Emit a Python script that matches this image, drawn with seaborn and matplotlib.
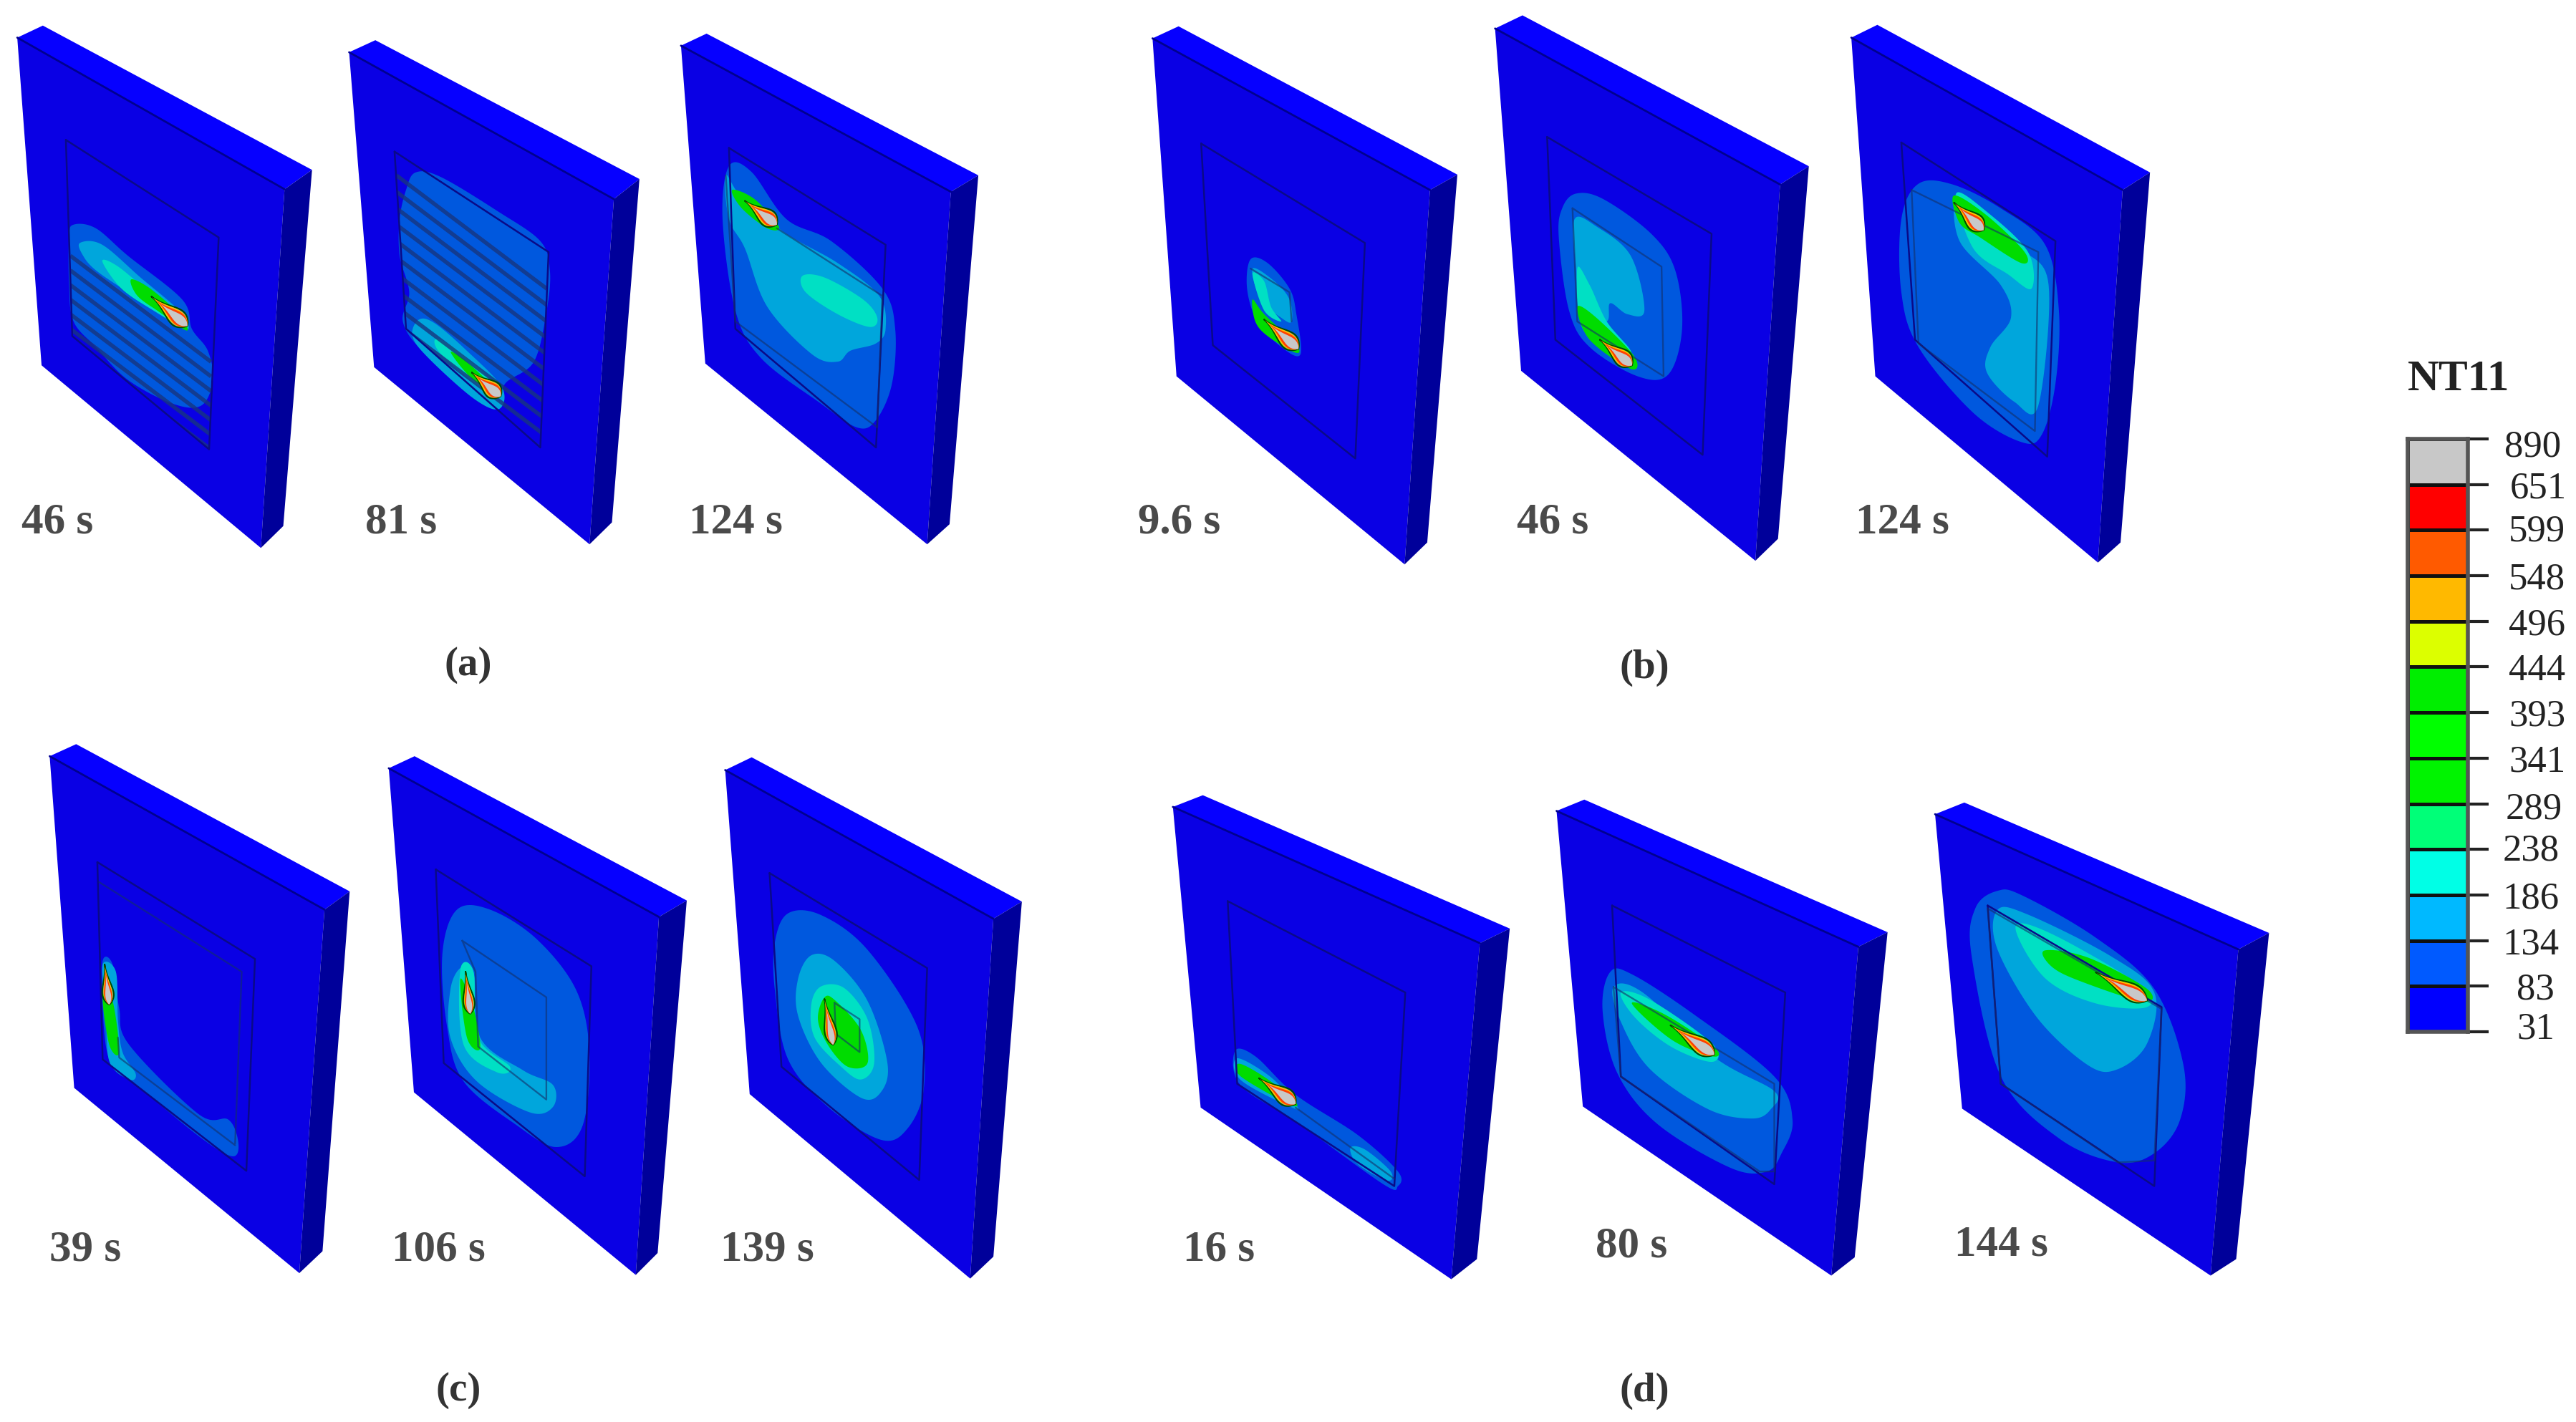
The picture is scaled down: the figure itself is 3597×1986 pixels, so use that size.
import numpy as np
import matplotlib
matplotlib.use("Agg")
import matplotlib.pyplot as plt
from matplotlib.colors import ListedColormap
from matplotlib.patches import Polygon, PathPatch
from matplotlib.path import Path
from matplotlib.transforms import ScaledTranslation
import seaborn as sns

sns.set_theme(style="white")
SERIF = ["Liberation Serif", "DejaVu Serif"]

# ---- colour scale -------------------------------------------------
level_labels = [890, 651, 599, 548, 496, 444, 393, 341, 289, 238, 186, 134, 83, 31]
level_colors = ["#C8C8C8", "#FF0000", "#FF5A00", "#FFB900", "#DCFF00", "#00EE00", "#00FF00",
                "#00F400", "#00FF78", "#00FFE6", "#00B9FF", "#005AFF", "#0000FF"]
label_pads = [16, 21, 20, 20, 20, 20, 20, 20, 17, 14, 14, 14, 28, 28]
label_dy = [-6, 0, 3, 0, 0, 0, 0, 0, -2, 3, 0, 0, 0, 9]

L1, L2, L3, L4 = "#0058DE", "#00A6DC", "#00E0C4", "#00DC00"

# ---- captions -----------------------------------------------------
panel_names = ["(a)", "(b)", "(c)", "(d)"]
panel_xy = [(285, 405), (1001, 407), (279, 847), (1001, 847)]
time_labels = ["46 s", "81 s", "124 s", "9.6 s", "46 s", "124 s", "39 s", "106 s", "139 s", "16 s", "80 s", "144 s"]
time_xy = [(35, 318), (244, 318), (448, 318), (718, 318), (945, 318), (1158, 318),
           (52, 761), (267, 761), (467, 761), (742, 761), (993, 759), (1218, 758)]

# ---- crop frames used to read the plates: x0, y0, width, height -----
frame_a = (0, 0, 1400, 800)
frame_b = (1550, 0, 1500, 800)
frame_c = (0, 1000, 1450, 800)
frame_d = (1600, 1080, 1600, 800)

# ---- plates: corners A,B,C,D,E,F,G; window; extra lines; contours; hot zone -----
plates = [
 dict(frame=frame_a, box=[(67,70),(27,103),(445,518),(488,465),(408,1500),(65,1000),(443,1440)],
      win=[(103,383),(342,650),(327,1230),(113,920)], lines=[],
      stripes=(110, 330, [700,740,780,820,860,900,940,980]),
      blobs=[(L1,[(115,615),(150,625),(200,700),(285,820),(300,900),(325,960),(333,1040),(315,1110),(270,1105),(200,1040),(150,950),(115,880),(108,780),(108,650)]),
             (L2,[(125,665),(160,670),(220,760),(280,850),(295,900),(270,880),(200,800),(150,740),(130,700)]),
             (L3,[(160,715),(185,730),(240,810),(285,870),(290,900),(240,850),(190,790)]),
             (L4,[(205,765),(235,790),(280,860),(292,905),(250,855),(215,810)])],
      hot=[(237,812),(293,892)]),
 dict(frame=frame_a, box=[(587,110),(546,143),(960,545),(1000,490),(922,1490),(585,1005),(957,1430)],
      win=[(617,415),(858,690),(845,1225),(635,900)], lines=[],
      stripes=(620, 855, [480,525,570,615,660,705,750,795,840,885,930]),
      blobs=[(L1,[(650,472),(690,485),(780,580),(845,660),(860,740),(855,850),(835,990),(790,1050),(780,1115),(740,1080),(660,960),(630,880),(640,800),(625,700),(625,600),(635,520)]),
             (L2,[(655,875),(680,885),(730,960),(785,1060),(780,1120),(740,1090),(670,980),(645,920)]),
             (L3,[(680,930),(700,940),(750,1010),(780,1070),(745,1050),(690,970)]),
             (L4,[(705,965),(730,990),(782,1080),(740,1040)])],
      hot=[(738,1020),(783,1085)]),
 dict(frame=frame_a, box=[(1105,92),(1065,125),(1487,525),(1530,480),(1450,1490),(1103,995),(1485,1435)],
      win=[(1140,405),(1385,670),(1370,1225),(1150,900)],
      lines=[[(1215,625),(1380,810),(1372,1170),(1150,880),(1135,480)]],
      blobs=[(L1,[(1140,455),(1175,470),(1230,600),(1300,660),(1380,790),(1400,900),(1395,1050),(1370,1150),(1340,1170),(1280,1100),(1190,980),(1150,850),(1130,600)]),
             (L2,[(1135,480),(1160,540),(1230,640),(1310,720),(1375,810),(1385,900),(1370,940),(1330,960),(1310,990),(1270,970),(1200,840),(1165,680),(1140,600)]),
             (L3,[(1255,755),(1290,760),(1350,820),(1372,870),(1360,895),(1310,860),(1260,800)]),
             (L4,[(1145,520),(1180,545),(1218,620),(1200,625),(1160,570)])],
      hot=[(1165,550),(1215,615)]),
 dict(frame=frame_b, box=[(100,72),(62,105),(467,520),(507,478),(430,1545),(97,1030),(463,1485)],
      win=[(133,393),(372,665),(358,1255),(150,945)], lines=[[(205,735),(262,800),(265,880)]],
      blobs=[(L1,[(205,710),(230,720),(262,790),(272,860),(278,970),(250,950),(215,880),(200,790)]),
             (L2,[(208,735),(240,770),(262,820),(265,880),(250,870),(220,820)]),
             (L3,[(208,750),(225,770),(235,840),(250,880),(225,850)]),
             (L4,[(208,820),(225,860),(272,945),(270,965),(230,920),(212,880)])],
      hot=[(225,875),(275,955)]),
 dict(frame=frame_b, box=[(602,42),(562,78),(978,505),(1020,455),(942,1535),(600,1015),(975,1475)],
      win=[(638,375),(878,640),(865,1245),(650,930)],
      lines=[[(675,570),(805,730),(808,1030),(682,880),(675,570)]],
      blobs=[(L1,[(680,530),(720,545),(790,640),(825,740),(835,900),(815,1025),(770,1030),(700,950),(670,850),(655,650),(660,570)]),
             (L2,[(678,600),(710,620),(760,700),(780,850),(755,860),(730,830),(725,880),(690,870),(680,730)]),
             (L3,[(682,735),(700,780),(725,880),(760,960),(745,970),(690,900)]),
             (L4,[(682,840),(710,870),(765,975),(760,1010),(700,930)])],
      hot=[(715,930),(762,1000)]),
 dict(frame=frame_b, box=[(1120,68),(1082,103),(1478,520),(1518,472),(1442,1540),(1117,1030),(1475,1485)],
      win=[(1155,390),(1380,660),(1368,1250),(1175,930)],
      lines=[[(1170,520),(1355,690),(1350,1180),(1180,940),(1170,520)]],
      blobs=[(L1,[(1180,503),(1230,505),(1300,570),(1365,670),(1385,850),(1380,1050),(1360,1190),(1330,1210),(1260,1130),(1180,950),(1155,800),(1155,600)]),
             (L2,[(1235,530),(1270,580),(1330,680),(1370,780),(1355,1110),(1320,1100),(1280,1020),(1285,950),(1315,870),(1300,780),(1240,660)]),
             (L3,[(1235,530),(1280,580),(1340,690),(1345,790),(1310,750),(1260,680)]),
             (L4,[(1232,535),(1280,590),(1335,690),(1330,720),(1270,650),(1240,610)])],
      hot=[(1232,555),(1275,630)]),
 dict(frame=frame_c, box=[(115,77),(75,110),(490,530),(528,480),(452,1525),(112,1018),(487,1465)],
      win=[(147,400),(385,665),(372,1245),(155,940)],
      lines=[[(150,455),(365,700),(355,1170)],[(178,880),(180,935),(355,1175)]],
      blobs=[(L1,[(155,670),(170,680),(180,800),(195,900),(300,1090),(345,1105),(360,1170),(350,1205),(300,1150),(200,1000),(165,940),(155,800)]),
             (L2,[(155,680),(175,700),(178,830),(185,920),(205,980),(195,995),(165,945),(160,800)]),
             (L4,[(155,770),(170,780),(180,920),(165,900)])],
      hot=[(158,680),(165,790)], hot_w=13),
 dict(frame=frame_c, box=[(626,110),(587,143),(995,550),(1037,505),(960,1530),(625,1030),(993,1470)],
      win=[(658,420),(893,685),(883,1260),(670,950)],
      lines=[[(698,615),(825,770),(825,1050),(722,905),(718,700),(698,615)]],
      blobs=[(L1,[(690,530),(740,530),(810,610),(870,750),(890,920),(880,1120),(840,1180),(780,1120),(700,1000),(675,850),(668,650)]),
             (L2,[(695,690),(715,700),(725,880),(790,970),(835,1010),(835,1070),(800,1085),(720,1000),(680,880),(680,750)]),
             (L3,[(695,695),(715,700),(722,880),(770,960),(750,975),(700,900)]),
             (L4,[(695,720),(715,800),(725,910),(705,880)])],
      hot=[(703,700),(710,815)], hot_w=13),
 dict(frame=frame_c, box=[(1135,113),(1095,148),(1500,555),(1543,508),(1465,1540),(1132,1035),(1500,1480)],
      win=[(1162,430),(1400,690),(1388,1270),(1180,960)],
      lines=[[(1260,785),(1298,830),(1298,920),(1262,870),(1260,785)]],
      blobs=[(L1,[(1190,540),(1240,545),(1310,640),(1385,850),(1395,1020),(1370,1130),(1330,1160),(1250,1070),(1190,940),(1170,750),(1170,620)]),
             (L2,[(1225,655),(1260,670),(1310,780),(1340,950),(1330,1030),(1300,1045),(1240,950),(1205,820),(1205,720)]),
             (L3,[(1240,740),(1275,745),(1310,830),(1320,950),(1300,995),(1270,960),(1230,880),(1225,790)]),
             (L4,[(1245,770),(1262,780),(1300,860),(1310,950),(1280,960),(1250,900),(1235,830)])],
      hot=[(1245,775),(1258,900)], hot_w=14),
 dict(frame=frame_d, box=[(78,60),(37,92),(457,465),(498,425),(418,1385),(75,915),(453,1330)],
      win=[(112,350),(355,600),(340,1130),(125,850)], lines=[[(205,915),(340,1110)]],
      blobs=[(L1,[(122,760),(150,775),(205,880),(290,990),(345,1090),(345,1130),(325,1125),(210,960),(130,855)]),
             (L2,[(125,780),(170,830),(205,905),(200,915),(130,840)]),
             (L2,[(280,1025),(300,1030),(335,1090),(330,1115),(290,1070)]),
             (L4,[(128,795),(165,835),(205,900),(195,905),(130,830)])],
      hot=[(155,835),(205,905)]),
 dict(frame=frame_d, box=[(600,72),(562,103),(975,475),(1015,435),(938,1375),(598,912),(970,1325)],
      win=[(638,362),(875,600),(860,1125),(650,830)],
      lines=[[(640,585),(860,850),(860,1090),(840,1090),(650,830),(640,585)]],
      blobs=[(L1,[(635,545),(665,550),(750,660),(860,830),(885,950),(870,1040),(850,1090),(800,1080),(700,960),(645,820),(625,650)]),
             (L2,[(640,585),(680,600),(780,780),(860,870),(855,920),(830,945),(770,920),(690,810),(650,680)]),
             (L3,[(650,600),(690,620),(775,740),(775,790),(720,750),(670,670)]),
             (L4,[(665,630),(710,660),(778,750),(775,775),(720,730)])],
      hot=[(718,690),(778,770)]),
 dict(frame=frame_d, box=[(1120,80),(1080,112),(1495,482),(1537,437),(1457,1375),(1117,918),(1492,1330)],
      win=[(1152,362),(1390,640),(1380,1130),(1170,850)],
      lines=[[(1152,370),(1390,645),(1380,1060),(1330,1065),(1170,850),(1152,370)]],
      blobs=[(L1,[(1165,322),(1200,335),(1300,450),(1380,590),(1420,800),(1415,950),(1380,1040),(1330,1065),(1250,1000),(1170,830),(1130,500),(1135,370)]),
             (L2,[(1165,375),(1205,385),(1320,500),(1380,600),(1370,740),(1330,810),(1290,800),(1220,670),(1165,480)]),
             (L3,[(1190,420),(1240,440),(1360,580),(1370,640),(1300,630),(1230,560)]),
             (L4,[(1230,485),(1290,505),(1370,590),(1365,625),(1280,570),(1240,530)])],
      hot=[(1300,545),(1370,622)]),
]

W, H = 3597, 1986
fig = plt.figure(figsize=(W / 100, H / 100), dpi=100, facecolor="white")
ax = fig.add_axes([0, 0, 1, 1])
ax.set_xlim(0, W)
ax.set_ylim(H, 0)
ax.axis("off")


def to_ref(pts, frame):
    pts = np.asarray(pts, float)
    x0, y0, w, h = frame
    return np.c_[x0 + pts[:, 0] * w / 1568, y0 + pts[:, 1] * h / 1568]


def smooth(pts, n=14):
    """Closed Catmull-Rom outline through the read points."""
    p = np.asarray(pts, float)
    out = []
    t = np.linspace(0, 1, n, endpoint=False)[:, None]
    for i in range(len(p)):
        a, b, c, d = p[i - 1], p[i], p[(i + 1) % len(p)], p[(i + 2) % len(p)]
        out.append(0.5 * (2 * b + (c - a) * t + (2 * a - 5 * b + 4 * c - d) * t ** 2 + (3 * b - a - 3 * c + d) * t ** 3))
    return np.vstack(out)


def leaf(p0, p1, width, start=0.0):
    """Slim flame shape: pointed at the first end, widest near the second."""
    p0, p1 = np.asarray(p0, float), np.asarray(p1, float)
    p0 = p0 + (p1 - p0) * start
    u = p1 - p0
    nrm = np.array([-u[1], u[0]]) / np.hypot(*u)
    s = np.linspace(0, 1, 30)
    prof = np.sin(np.pi * s ** 2.2) ** 0.8 * width / 2
    side1 = p0 + s[:, None] * u + prof[:, None] * nrm
    side2 = p0 + s[:, None] * u - prof[:, None] * nrm
    return np.vstack([side1, side2[::-1]])


for pl in plates:
    fr = pl["frame"]
    A, B, C, D, E, F, G = to_ref(pl["box"], fr)
    ax.add_patch(Polygon([B, C, E, F], fc="#0A00E4", ec="none", zorder=1))
    ax.add_patch(Polygon([A, B, C, D], fc="#0600FF", ec="none", zorder=1))
    ax.add_patch(Polygon([C, D, G, E], fc="#00009A", ec="none", zorder=1))
    ax.plot([B[0], C[0]], [B[1], C[1]], color="#000090", lw=2, zorder=2)
    win = to_ref(pl["win"], fr)
    for col, pts in pl["blobs"]:
        ax.fill(*smooth(to_ref(pts, fr)).T, color=col, lw=0, zorder=3)
    if "stripes" in pl:
        xa, xb, ys = pl["stripes"]
        clip = PathPatch(Path(np.vstack([win, win[:1]])), transform=ax.transData, fc="none", ec="none")
        ax.add_patch(clip)
        for y in ys:
            seg = to_ref([(xa, y), (xb, y + (xb - xa) * 1.32)], fr)
            ln, = ax.plot(*seg.T, color="#17357F", lw=4, alpha=0.8, zorder=4, solid_capstyle="butt")
            ln.set_clip_path(clip)
    closed = np.vstack([win, win[:1]])
    ax.plot(*closed.T, color="#0A0A88", lw=1.8, zorder=5)
    for ln in pl["lines"]:
        ax.plot(*to_ref(ln, fr).T, color="#14306A", lw=1.7, alpha=0.6, zorder=5)
    p0, p1 = to_ref(pl["hot"], fr)
    w = pl.get("hot_w", 21)
    ax.plot(*leaf(p0, p1, w + 3).T, color="#004A00", lw=1.5, zorder=6)
    ax.fill(*leaf(p0, p1, w).T, color="#FFC000", lw=0, zorder=6)
    ax.fill(*leaf(p0, p1, w * 0.86, 0.10).T, color="#FF4000", lw=0, zorder=6)
    ax.fill(*leaf(p0, p1, w * 0.62, 0.22).T, color="#C8C8C8", lw=0, zorder=7)

for txt, (x, y) in zip(time_labels, time_xy):
    ax.text(x * W / 1568, y * H / 866, txt, family=SERIF, fontsize=44, color="#4A4A4A",
            fontweight="bold", ha="center", va="center", zorder=8)
for txt, (x, y) in zip(panel_names, panel_xy):
    ax.text(x * W / 1568, y * H / 866, txt, family=SERIF, fontsize=41, color="#333333",
            fontweight="bold", ha="center", va="center", zorder=8)

# ---- legend bar drawn as a seaborn heatmap --------------------------
cax = fig.add_axes([3362 / W, 1 - 1441 / H, (3446 - 3362) / W, (1441 - 613) / H])
cell_index = np.arange(len(level_colors))[:, None]
sns.heatmap(cell_index, ax=cax, cmap=ListedColormap(level_colors), cbar=False,
            linewidths=2.5, linecolor="#101010", xticklabels=False, square=False)
cax.set_ylabel("")
cax.yaxis.tick_right()
cax.set_yticks(np.arange(len(level_labels)))
cax.set_yticklabels(level_labels, rotation=0, family=SERIF, fontsize=38, color="#222222")
cax.tick_params(axis="y", length=21, width=3, color="#222222", right=True, left=False)
for tick, pad, dy in zip(cax.yaxis.get_major_ticks(), label_pads, label_dy):
    tick.set_pad(pad)
    lab = tick.label2
    lab.set_transform(lab.get_transform() + ScaledTranslation(0, dy / 100, fig.dpi_scale_trans))
for name, sp in cax.spines.items():
    sp.set_visible(True)
    sp.set_color("#555555")
    sp.set_linewidth(4)
ax.text(3433, 530, "NT11", family=SERIF, fontsize=44, fontweight="bold", color="#222222",
        ha="center", va="center")

fig.savefig("out.png", dpi=100, facecolor="white")
